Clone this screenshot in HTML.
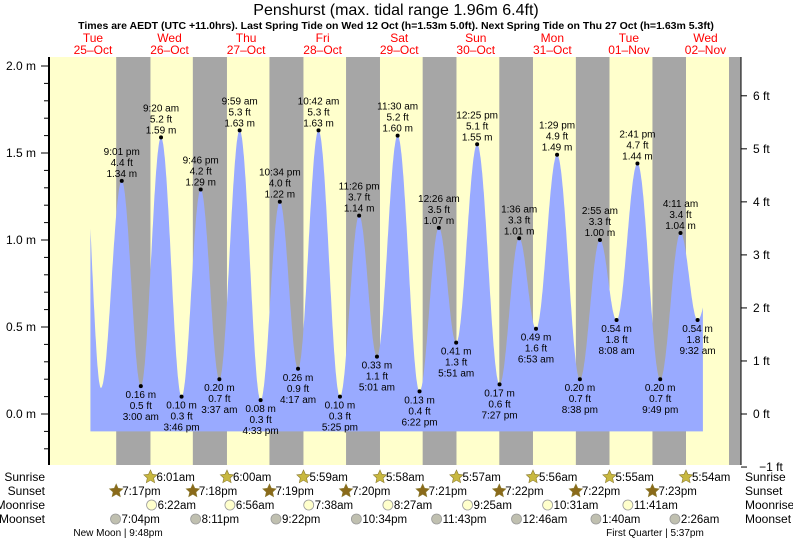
<!DOCTYPE html>
<html><head><meta charset="utf-8"><style>
body{margin:0;background:#fff;width:793px;height:539px;overflow:hidden}
svg{font-family:"Liberation Sans",sans-serif;display:block}
</style></head><body>
<svg id="c" width="793" height="539"></svg>
<script>
const highTimes=[21.02,33.33,45.77,57.98,70.57,82.70,95.43,107.50,120.43,132.42,145.60,157.48,170.92,182.68,196.18];
const highM=[1.34,1.59,1.29,1.63,1.22,1.63,1.14,1.60,1.07,1.55,1.01,1.49,1.00,1.44,1.04];
const highFt=["4.4","5.2","4.2","5.3","4.0","5.3","3.7","5.2","3.5","5.1","3.3","4.9","3.3","4.7","3.4"];
const highLbl=["9:01 pm","9:20 am","9:46 pm","9:59 am","10:34 pm","10:42 am","11:26 pm","11:30 am","12:26 am","12:25 pm","1:36 am","1:29 pm","2:55 am","2:41 pm","4:11 am"];
const lowTimes=[27.00,39.77,51.62,64.55,76.28,89.42,101.02,114.37,125.85,139.45,150.88,164.63,176.13,189.82,201.53];
const lowM=[0.16,0.10,0.20,0.08,0.26,0.10,0.33,0.13,0.41,0.17,0.49,0.20,0.54,0.20,0.54];
const lowFt=["0.5","0.3","0.7","0.3","0.9","0.3","1.1","0.4","1.3","0.6","1.6","0.7","1.8","0.7","1.8"];
const lowLbl=["3:00 am","3:46 pm","3:37 am","4:33 pm","4:17 am","5:25 pm","5:01 am","6:22 pm","5:51 am","7:27 pm","6:53 am","8:38 pm","8:08 am","9:49 pm","9:32 am"];
const dayNames=["Tue","Wed","Thu","Fri","Sat","Sun","Mon","Tue","Wed"];
const dayDates=["25\u2013Oct","26\u2013Oct","27\u2013Oct","28\u2013Oct","29\u2013Oct","30\u2013Oct","31\u2013Oct","01\u2013Nov","02\u2013Nov"];
const sunriseT=[30.02,54.00,77.98,101.97,125.95,149.93,173.92,197.90];
const sunriseL=["6:01am","6:00am","5:59am","5:58am","5:57am","5:56am","5:55am","5:54am"];
const sunsetT=[19.28,43.30,67.32,91.33,115.35,139.37,163.37,187.38];
const sunsetL=["7:17pm","7:18pm","7:19pm","7:20pm","7:21pm","7:22pm","7:22pm","7:23pm"];
const moonriseT=[30.37,54.93,79.63,104.45,129.42,154.52,179.68];
const moonriseL=["6:22am","6:56am","7:38am","8:27am","9:25am","10:31am","11:41am"];
const moonsetT=[19.07,44.18,69.37,94.57,119.72,144.77,169.67,194.43];
const moonsetL=["7:04pm","8:11pm","9:22pm","10:34pm","11:43pm","12:46am","1:40am","2:26am"];
const leftTicks=[0,0.5,1.0,1.5,2.0];
const rightTicks=[-1,0,1,2,3,4,5,6];

const svg=document.getElementById('c');
const NS='http://www.w3.org/2000/svg';
const X=t=>54.7+t*3.19;
const Y=m=>414-m*174;
const YF=f=>Y(f*0.3048);
const L=49,R=741,T=57,B=465;
function el(tag,a,p){const e=document.createElementNS(NS,tag);for(const k in a)e.setAttribute(k,a[k]);(p||svg).appendChild(e);return e;}
function txt(x,y,s,a,p){const e=el('text',Object.assign({x:x,y:y},a||{}),p);e.textContent=s;return e;}

const bg=el('rect',{x:L,y:T,width:R-L,height:B-T,fill:'#ffffcc'});


for(let i=0;i<sunsetT.length;i++){
  const x1=X(sunsetT[i]),x2=Math.min(X(sunriseT[i]),R);
  const r=el('rect',{x:x1,y:T,width:x2-x1,height:B-T,fill:'#a6a6a6'});
  
  
}
const endG=el('rect',{x:729,y:T,width:R-729,height:B-T,fill:'#a6a6a6'});



const ev=[{t:8.8,m:1.62},{t:14.5,m:0.15}];
for(let i=0;i<highTimes.length;i++){ev.push({t:highTimes[i],m:highM[i]});ev.push({t:lowTimes[i],m:lowM[i]});}
ev.push({t:208.3,m:1.05});
ev.sort((a,b)=>a.t-b.t);
function h(t){for(let i=0;i<ev.length-1;i++){const a=ev[i],b=ev[i+1];if(t>=a.t&&t<=b.t){const f=(t-a.t)/(b.t-a.t);return a.m+(b.m-a.m)*(1-Math.cos(Math.PI*f))/2;}}return 0;}
const t0=11.2,t1=203.2;let d='M'+X(t0)+','+Y(-0.1);
for(let t=t0;t<=t1;t+=0.1)d+=' L'+X(t).toFixed(1)+','+Y(h(t)).toFixed(1);
d+=' L'+X(t1)+','+Y(-0.1)+' Z';
const area=el('path',{d:d,fill:'#99aaff'});



for(let i=0;i<highTimes.length;i++){
  const x=X(highTimes[i]),y=Y(highM[i]);
  const g=el('g',{'font-size':'10',fill:'#000','text-anchor':'middle'});
  
  
  el('circle',{cx:x,cy:y,r:2,fill:'#000'},g);
  txt(x,y-26,highLbl[i],{},g);txt(x,y-15,highFt[i]+' ft',{},g);txt(x,y-4,highM[i].toFixed(2)+' m',{},g);
}
for(let i=0;i<lowTimes.length;i++){
  const x=X(lowTimes[i]),y=Y(lowM[i]);
  const g=el('g',{'font-size':'10',fill:'#000','text-anchor':'middle'});
  
  
  el('circle',{cx:x,cy:y,r:2,fill:'#000'},g);
  txt(x,y+12,lowM[i].toFixed(2)+' m',{},g);txt(x,y+23,lowFt[i]+' ft',{},g);txt(x,y+34,lowLbl[i],{},g);
}

el('line',{x1:L,y1:T,x2:L,y2:B,stroke:'#000','stroke-width':2});
el('line',{x1:R,y1:T,x2:R,y2:B,stroke:'#000','stroke-width':1});
for(let m=-0.2;m<=2.001;m+=0.1){const y=Y(m);el('line',{x1:L-5,y1:y,x2:L,y2:y,stroke:'#000'});}
leftTicks.forEach(m=>{const y=Y(m);el('line',{x1:L-8,y1:y,x2:L,y2:y,stroke:'#000'});
  const t=txt(36,y+4,m.toFixed(1)+' m',{'font-size':'12','text-anchor':'end'});});
rightTicks.forEach(f=>{const y=YF(f);el('line',{x1:R,y1:y,x2:R+6,y2:y,stroke:'#000'});
  const t=txt(f<0?R+30:R+12,y+4,(f<0?'\u22121':f)+' ft',{'font-size':'12','text-anchor':(f<0?'middle':'start')});});

const ti=txt(396,15,'Penshurst (max. tidal range 1.96m 6.4ft)',{'font-size':'16','text-anchor':'middle'});

const st=txt(396,29,'Times are AEDT (UTC +11.0hrs). Last Spring Tide on Wed 12 Oct (h=1.53m 5.0ft). Next Spring Tide on Thu 27 Oct (h=1.63m 5.3ft)',{'font-size':'10.5','font-weight':'bold','text-anchor':'middle'});

for(let i=0;i<dayNames.length;i++){const x=X(12+24*i);
  const g=el('g',{fill:'#ff0000','font-size':'12','text-anchor':'middle'});
  
  txt(x,42,dayNames[i],{},g);txt(x,54,dayDates[i],{},g);}

const rows=[['Sunrise',481],['Sunset',495],['Moonrise',509],['Moonset',523]];
rows.forEach(r=>{const a=txt(45,r[1],r[0],{'font-size':'12','text-anchor':'end'});
  const b=txt(745,r[1],r[0],{'font-size':'12'});});
function star(cx,cy,fill){let p='';for(let k=0;k<10;k++){const a=-Math.PI/2+k*Math.PI/5,rr=k%2?3.3:7;p+=(k?'L':'M')+(cx+rr*Math.cos(a)).toFixed(1)+','+(cy+rr*Math.sin(a)).toFixed(1);}return el('path',{d:p+'Z',fill:fill,stroke:'#8a7a30','stroke-width':0.6});}
function row(ts,ls,y,kind){for(let i=0;i<ts.length;i++){const x=X(ts[i]);const g=el('g',{});
  
  if(kind==='sunrise')g.appendChild(star(x,y-4,'#c8b840'));
  else if(kind==='sunset')g.appendChild(star(x,y-4,'#8a6a1a'));
  else el('circle',{cx:x,cy:y-4,r:5,fill:kind==='moonrise'?'#ffffcc':'#c0c0b0',stroke:'#999','stroke-width':0.8},g);
  txt(x+6,y,ls[i],{'font-size':'11.5'},g);}}
row(sunriseT,sunriseL,481,'sunrise');row(sunsetT,sunsetL,495,'sunset');row(moonriseT,moonriseL,509,'moonrise');row(moonsetT,moonsetL,523,'moonset');
const nm=txt(118,536,'New Moon | 9:48pm',{'font-size':'10','text-anchor':'middle'});
const fq=txt(655,536,'First Quarter | 5:37pm',{'font-size':'10','text-anchor':'middle'});
</script>
</body></html>
